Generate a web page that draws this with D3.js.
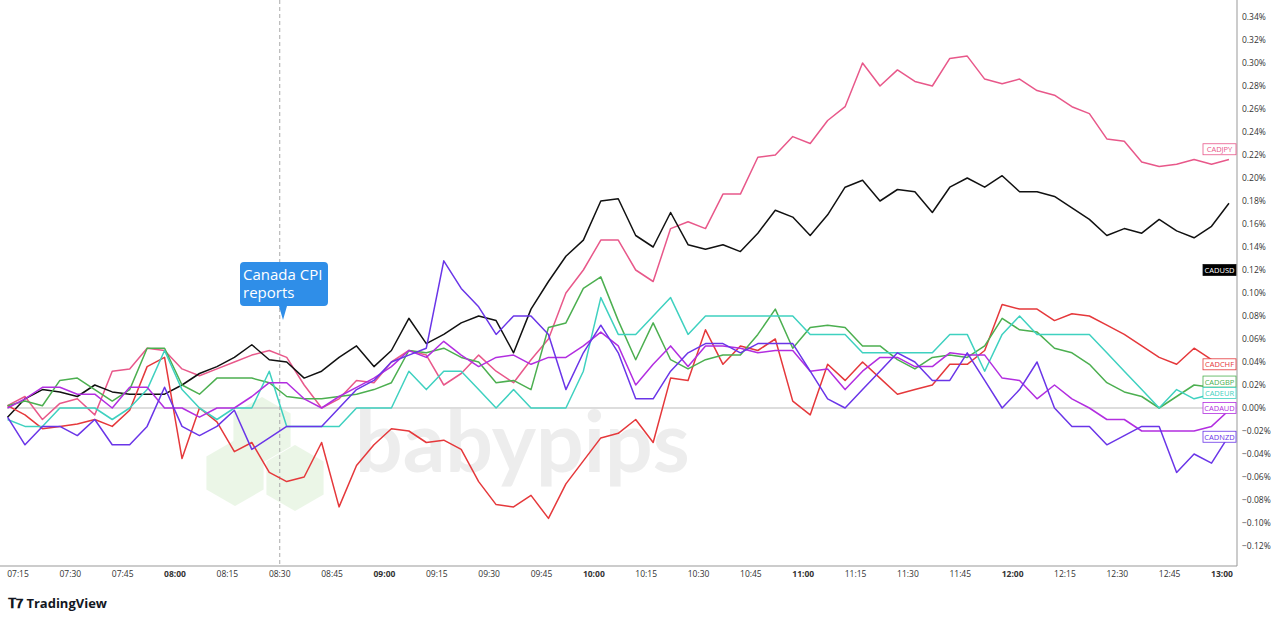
<!DOCTYPE html>
<html><head><meta charset="utf-8">
<script src="https://cdn.jsdelivr.net/npm/d3@7"></script>
<style>body{margin:0;background:#fff;font-family:"Open Sans",sans-serif}</style>
</head><body><svg id="c" width="1280" height="623"></svg>
<script>
// minutes since midnight for first point, 5-min steps
const startMin = 432, stepMin = 5;
const cadusd = [-0.8,0.8,1.6,1.4,1.0,2.0,1.4,1.2,1.2,1.2,2.0,3.0,3.6,4.4,5.5,4.2,4.0,2.6,3.2,4.4,5.4,3.6,5.0,7.8,5.6,6.4,7.4,8.0,7.6,4.8,8.6,11.0,13.2,14.6,18.0,18.2,15.0,14.0,17.0,14.2,13.8,14.2,13.6,15.2,17.2,16.6,15.0,16.8,19.2,19.8,18.0,19.0,18.8,17.0,19.2,20.0,19.2,20.2,18.8,18.8,18.4,17.4,16.4,15.0,15.6,15.2,16.4,15.4,14.8,15.8,17.8];
const cadjpy = [0.2,1.0,-1.0,0.4,0.8,-0.6,3.2,3.4,5.2,5.0,3.4,2.8,3.4,4.0,4.6,5.0,4.4,2.0,0.0,0.8,2.4,2.2,4.0,5.0,4.6,2.0,3.0,4.6,3.2,2.2,4.2,6.0,10.0,12.0,14.6,14.6,12.0,11.0,15.6,16.2,15.6,18.6,18.6,21.8,22.0,23.6,23.0,25.0,26.2,30.0,28.0,29.4,28.4,28.0,30.4,30.6,28.6,28.2,28.6,27.6,27.2,26.2,25.6,23.4,23.2,21.4,21.0,21.2,21.6,21.2,21.6];
const cadchf = [0.2,-0.6,-1.8,-1.6,-1.4,-1.0,-1.6,-0.2,3.6,4.4,-4.4,0,-1.2,-3.8,-3.0,-5.6,-6.4,-6.0,-3.0,-8.6,-5.0,-3.2,-1.8,-2.0,-3.0,-2.8,-3.6,-6.4,-8.4,-8.6,-7.6,-9.6,-6.6,-4.6,-2.6,-2.2,-1.0,-3.0,2.6,2.4,6.8,3.8,5.4,5.0,6.0,0.6,-0.6,3.8,2.4,4.0,2.6,1.2,1.6,2.0,3.8,3.8,5.0,9.0,8.6,8.6,7.6,8.2,8.0,7.2,6.4,5.4,4.4,3.8,5.2,4.2,4.2];
const cadgbp = [0.2,0.6,0.2,2.4,2.6,1.6,0.6,1.6,5.2,5.2,2.0,1.2,2.6,2.6,2.6,2.2,1.0,0.8,0.8,1.0,1.2,1.6,2.2,5.0,4.8,5.2,4.4,4.0,2.2,2.4,1.6,7.0,7.4,10.4,11.4,7.6,4.2,7.4,4.2,3.4,4.2,4.6,4.6,6.4,8.6,5.2,7.0,7.2,7.0,5.4,5.4,4.2,3.4,4.4,4.6,4.4,5.4,7.8,6.8,6.6,5.2,4.8,3.8,2.2,1.4,1.0,0.0,1.0,2.0,1.8,1.6];
const cadeur = [-1.0,-1.6,-1.6,0,0,0,-1.0,0,1.6,5.0,1.6,0,-1.0,0,0,3.2,-1.6,-1.6,-1.6,-1.6,0,0,0,3.2,1.6,3.2,3.2,1.6,0,1.6,0,0,0,3.2,9.6,6.4,6.4,8.0,9.6,6.4,8.0,8.0,8.0,8.0,8.0,8.0,6.4,6.4,6.4,4.8,4.8,4.8,4.8,4.8,6.4,6.4,3.2,6.4,8.0,6.4,6.4,6.4,6.4,4.8,3.2,1.6,0,1.6,0.8,1.2,1.6];
const cadaud = [0,0.8,1.8,1.8,1.2,1.2,0,1.8,1.8,0,0,-0.8,0,0,1.0,2.2,2.2,0.8,0,1.0,1.8,2.6,3.6,5.0,4.4,5.8,4.6,3.6,4.4,4.6,3.8,4.4,4.4,5.4,6.6,5.4,2.0,3.8,5.4,3.6,5.4,5.4,5.2,4.8,5.0,5.0,3.2,3.4,1.6,3.2,4.4,4.4,3.6,3.6,4.8,4.6,4.6,2.6,2.4,0.8,2.0,0.8,0,-1.0,-1.0,-2.0,-2.0,-2.0,-2.0,-1.6,-0.2];
const cadnzd = [-0.8,-3.2,-1.6,-1.6,-2.4,-1.0,-3.2,-3.2,-1.6,1.8,-1.6,-2.4,-1.6,-0.2,-3.6,-2.6,-1.6,-1.6,-1.6,0,1.6,2.4,4.0,4.6,5.2,12.8,10.4,8.8,6.4,8.0,8.0,6.4,1.6,4.8,7.2,4.8,0.8,0.8,3.2,4.8,5.6,5.6,4.8,5.6,5.6,5.6,3.2,0.8,0,1.6,3.2,4.8,4.0,2.4,2.4,4.8,2.4,0,1.6,4.0,0,-1.6,-1.6,-3.2,-2.4,-1.6,-1.6,-5.6,-4.0,-4.8,-2.4];

const seriesNames = ["CADJPY","CADUSD","CADCHF","CADGBP","CADEUR","CADAUD","CADNZD"];
const seriesColors = ["#e8588a","#111111","#e5383b","#4caf50","#3fd1c0","#b22ee0","#6a35e8"];
const seriesData = [cadjpy,cadusd,cadchf,cadgbp,cadeur,cadaud,cadnzd];
const labelValues = [22.5,12,3.8,2.3,1.3,0,-2.5];
const yTicks = d3.range(-12,35,2);
const xTickMins = d3.range(435,781,15);

const svg = d3.select("#c");
const x = d3.scaleLinear().domain([435,780]).range([18,1222]);
const y = d3.scaleLinear().domain([0,34]).range([408,17]);

// watermark
const wm = svg.append("g").attr("opacity",0.5);
const hex = (cx,cy,r)=>d3.range(6).map(k=>[cx+r*Math.cos(Math.PI/3*k+Math.PI/6),cy+r*Math.sin(Math.PI/3*k+Math.PI/6)]);
[[235,473],[295,478],[262,430]].forEach(([cx,cy])=>wm.append("polygon").attr("points",hex(cx,cy,33).join(" ")).attr("fill","#d8efd0"));
wm.append("text").attr("x",355).attr("y",472).text("babypips").attr("font-size",84).attr("font-weight",700).attr("fill","#dcdcdc").attr("font-family","Lato");

// frame & axes
svg.append("line").attr("x1",1237).attr("x2",1237).attr("y1",0).attr("y2",566).attr("stroke","#999");
svg.append("line").attr("x1",0).attr("x2",1237).attr("y1",566).attr("y2",566).attr("stroke","#999");
svg.append("line").attr("x1",7).attr("x2",1237).attr("y1",y(0)).attr("y2",y(0)).attr("stroke","#bbb");
svg.append("line").attr("x1",x(510)).attr("x2",x(510)).attr("y1",0).attr("y2",566).attr("stroke","#aaa").attr("stroke-dasharray","4,3");

svg.append("g").selectAll("text").data(yTicks).join("text")
  .attr("x",1242).attr("y",d=>y(d)+3).attr("font-size",8.5).attr("fill","#333")
  .text(d=>(d<0?"\u2212":"")+(Math.abs(d)/100).toFixed(2)+"%");
svg.append("g").selectAll("text").data(xTickMins).join("text")
  .attr("x",d=>x(d)).attr("y",577).attr("text-anchor","middle").attr("font-size",8.5)
  .attr("font-weight",d=>d%60===0?700:400).attr("fill","#333")
  .text(d=>d3.format("02")(Math.floor(d/60))+":"+d3.format("02")(d%60));

// lines
const line = d3.line().x((d,i)=>x(startMin+i*stepMin)).y(d=>y(d));
seriesData.forEach((s,k)=>{
  svg.append("path").datum(s).attr("d",line).attr("fill","none")
    .attr("stroke",seriesColors[k]).attr("stroke-width",1.5).attr("stroke-linejoin","round");
});

// right labels
seriesNames.forEach((n,k)=>{
  const g = svg.append("g").attr("transform",`translate(1236,${y(labelValues[k])})`);
  const dark = n==="CADUSD";
  g.append("rect").attr("x",-33).attr("y",-5.5).attr("width",33).attr("height",11)
    .attr("fill",dark?"#000":"#fff").attr("stroke",seriesColors[k]).attr("stroke-width",0.8);
  g.append("text").attr("x",-16.5).attr("y",3).attr("text-anchor","middle").attr("font-size",7.5)
    .attr("fill",dark?"#fff":seriesColors[k]).text(n);
});

// callout
const cg = svg.append("g");
cg.append("path").attr("d","M240,262 h84 a4,4 0 0 1 4,4 v36 a4,4 0 0 1 -4,4 h-37 l-4,14 l-4,-14 h-35 a4,4 0 0 1 -4,-4 v-36 a4,4 0 0 1 4,-4z").attr("fill","#2f8ee8");
cg.append("text").attr("x",243).attr("y",280).attr("fill","#fff").attr("font-size",15).text("Canada CPI");
cg.append("text").attr("x",243).attr("y",298).attr("fill","#fff").attr("font-size",15).text("reports");

// logo
svg.append("text").attr("x",8).attr("y",608).attr("font-size",13).attr("font-weight",700).attr("fill","#131722").text("\u{1D413}\u{1D7D5} TradingView");
</script></body></html>
